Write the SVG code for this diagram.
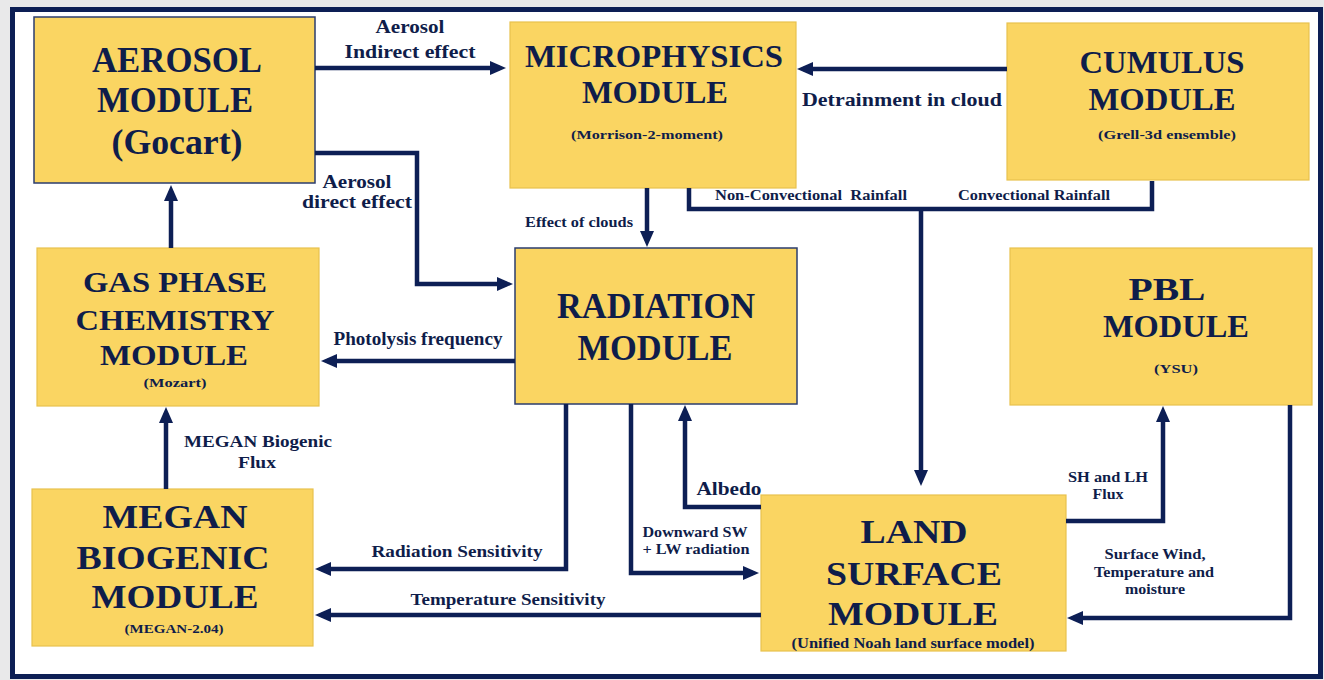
<svg xmlns="http://www.w3.org/2000/svg" width="1324" height="680" viewBox="0 0 1324 680">
<defs>
<style>
.bg{fill:#e9e9ea}
.frame{fill:#ffffff;stroke:#0d1f55;stroke-width:5}
.box{fill:#fad562;stroke:#e8c24e;stroke-width:1.2}
.boxd{fill:#fad562;stroke:#2b3d6e;stroke-width:1.5}
text{font-family:"Liberation Serif","Times New Roman",serif;font-weight:bold;fill:#0f1d4a;text-anchor:middle}
.t{font-size:33px}
.s{font-size:13px}
.l{font-size:17px}
.m{font-size:15px}
.c{fill:none;stroke:#0d1f55;stroke-width:4.5;stroke-linejoin:miter}
</style>
<marker id="ah" markerUnits="userSpaceOnUse" markerWidth="17" markerHeight="15" refX="10" refY="7" orient="auto">
<path d="M0,0 L16,7 L0,14 z" fill="#0d1f55"/>
</marker>
</defs>
<rect class="bg" x="0" y="0" width="1324" height="680"/>
<rect class="frame" x="12.5" y="9.5" width="1308" height="667"/>

<g id="aerosol">
<rect class="boxd" x="34" y="17" width="281" height="166"/>
<text class="t" x="177" y="72" style="font-size:36px" textLength="170" lengthAdjust="spacingAndGlyphs">AEROSOL</text>
<text class="t" x="175" y="112" style="font-size:36px" textLength="156" lengthAdjust="spacingAndGlyphs">MODULE</text>
<text class="t" x="177" y="154" style="font-size:36px" textLength="131" lengthAdjust="spacingAndGlyphs">(Gocart)</text>
</g>

<g id="microphysics">
<rect class="box" x="510" y="22" width="286" height="166"/>
<text class="t" x="654" y="67" style="font-size:31px" textLength="258" lengthAdjust="spacingAndGlyphs">MICROPHYSICS</text>
<text class="t" x="655" y="103" style="font-size:31px" textLength="146" lengthAdjust="spacingAndGlyphs">MODULE</text>
<text class="s" x="647" y="139" textLength="152" lengthAdjust="spacingAndGlyphs">(Morrison-2-moment)</text>
</g>

<g id="cumulus">
<rect class="box" x="1007" y="23" width="302" height="157"/>
<text class="t" x="1162" y="73" style="font-size:31px" textLength="165" lengthAdjust="spacingAndGlyphs">CUMULUS</text>
<text class="t" x="1162" y="110" style="font-size:31px" textLength="147" lengthAdjust="spacingAndGlyphs">MODULE</text>
<text class="s" x="1167" y="139" textLength="138" lengthAdjust="spacingAndGlyphs">(Grell-3d ensemble)</text>
</g>

<g id="gasphase">
<rect class="box" x="37" y="248" width="282" height="158"/>
<text class="t" x="175" y="292" style="font-size:30px" textLength="184" lengthAdjust="spacingAndGlyphs">GAS PHASE</text>
<text class="t" x="175" y="330" style="font-size:30px" textLength="199" lengthAdjust="spacingAndGlyphs">CHEMISTRY</text>
<text class="t" x="174" y="365" style="font-size:30px" textLength="148" lengthAdjust="spacingAndGlyphs">MODULE</text>
<text class="s" x="175" y="387" textLength="63" lengthAdjust="spacingAndGlyphs">(Mozart)</text>
</g>

<g id="radiation">
<rect class="boxd" x="515" y="248" width="282" height="156"/>
<text class="t" x="656" y="318" style="font-size:35px" textLength="198" lengthAdjust="spacingAndGlyphs">RADIATION</text>
<text class="t" x="655" y="360" style="font-size:35px" textLength="155" lengthAdjust="spacingAndGlyphs">MODULE</text>
</g>

<g id="pbl">
<rect class="box" x="1010" y="248" width="302" height="157"/>
<text class="t" x="1167" y="300" style="font-size:31px" textLength="77" lengthAdjust="spacingAndGlyphs">PBL</text>
<text class="t" x="1176" y="337" style="font-size:31px" textLength="146" lengthAdjust="spacingAndGlyphs">MODULE</text>
<text class="s" x="1176" y="373" textLength="44" lengthAdjust="spacingAndGlyphs">(YSU)</text>
</g>

<g id="megan">
<rect class="box" x="32" y="489" width="281" height="157"/>
<text class="t" x="175" y="528" style="font-size:34px" textLength="145" lengthAdjust="spacingAndGlyphs">MEGAN</text>
<text class="t" x="173" y="569" style="font-size:34px" textLength="193" lengthAdjust="spacingAndGlyphs">BIOGENIC</text>
<text class="t" x="175" y="608" style="font-size:34px" textLength="167" lengthAdjust="spacingAndGlyphs">MODULE</text>
<text class="s" x="174" y="633" style="font-size:12px" textLength="99" lengthAdjust="spacingAndGlyphs">(MEGAN-2.04)</text>
</g>

<g id="landsurface">
<rect class="box" x="761" y="495" width="305" height="156"/>
<text class="t" x="914" y="543" style="font-size:34px" textLength="107" lengthAdjust="spacingAndGlyphs">LAND</text>
<text class="t" x="914" y="585" style="font-size:34px" textLength="176" lengthAdjust="spacingAndGlyphs">SURFACE</text>
<text class="t" x="913" y="625" style="font-size:34px" textLength="170" lengthAdjust="spacingAndGlyphs">MODULE</text>
<text class="s" x="913" y="648" style="font-size:15px" textLength="243" lengthAdjust="spacingAndGlyphs">(Unified Noah land surface model)</text>
</g>

<g id="connectors">
<path class="c" d="M315,68 H500" marker-end="url(#ah)"/>
<path class="c" d="M315,153 H417 V284 H507" marker-end="url(#ah)"/>
<path class="c" d="M171,248 V191" marker-end="url(#ah)"/>
<path class="c" d="M1007,69 H803" marker-end="url(#ah)"/>
<path class="c" d="M647,188 V241" marker-end="url(#ah)"/>
<path class="c" d="M689,188 V209 H1152 V181"/>
<path class="c" d="M921,209 V480" marker-end="url(#ah)"/>
<path class="c" d="M515,361 H327" marker-end="url(#ah)"/>
<path class="c" d="M166,489 V413" marker-end="url(#ah)"/>
<path class="c" d="M566,404 V569 H321" marker-end="url(#ah)"/>
<path class="c" d="M761,615 H321" marker-end="url(#ah)"/>
<path class="c" d="M631,404 V573 H753" marker-end="url(#ah)"/>
<path class="c" d="M761,507 H685 V411" marker-end="url(#ah)"/>
<path class="c" d="M1066,521 H1163 V412" marker-end="url(#ah)"/>
<path class="c" d="M1290,405 V618 H1073" marker-end="url(#ah)"/>

<text class="l" x="410" y="33" style="font-size:18px" textLength="69" lengthAdjust="spacingAndGlyphs">Aerosol</text>
<text class="l" x="410" y="58" style="font-size:18px" textLength="131" lengthAdjust="spacingAndGlyphs">Indirect effect</text>
<text class="l" x="357" y="188" style="font-size:18px" textLength="69" lengthAdjust="spacingAndGlyphs">Aerosol</text>
<text class="l" x="357" y="208" style="font-size:18px" textLength="110" lengthAdjust="spacingAndGlyphs">direct effect</text>
<text class="l" x="902" y="106" style="font-size:19px" textLength="200" lengthAdjust="spacingAndGlyphs">Detrainment in cloud</text>
<text class="m" x="579" y="227" textLength="108" lengthAdjust="spacingAndGlyphs">Effect of clouds</text>
<text class="m" x="811" y="200" textLength="192" lengthAdjust="spacingAndGlyphs" xml:space="preserve">Non-Convectional  Rainfall</text>
<text class="m" x="1034" y="200" textLength="152" lengthAdjust="spacingAndGlyphs">Convectional Rainfall</text>
<text class="l" x="418" y="345" style="font-size:18px" textLength="169" lengthAdjust="spacingAndGlyphs">Photolysis frequency</text>
<text class="l" x="258" y="447" textLength="148" lengthAdjust="spacingAndGlyphs">MEGAN Biogenic</text>
<text class="l" x="257" y="468" textLength="38" lengthAdjust="spacingAndGlyphs">Flux</text>
<text class="l" x="457" y="557" textLength="171" lengthAdjust="spacingAndGlyphs">Radiation Sensitivity</text>
<text class="l" x="508" y="605" textLength="195" lengthAdjust="spacingAndGlyphs">Temperature Sensitivity</text>
<text class="m" x="695" y="537" textLength="105" lengthAdjust="spacingAndGlyphs">Downward SW</text>
<text class="m" x="696" y="554" textLength="107" lengthAdjust="spacingAndGlyphs">+ LW radiation</text>
<text class="l" x="729" y="495" style="font-size:19px" textLength="65" lengthAdjust="spacingAndGlyphs">Albedo</text>
<text class="m" x="1108" y="482" textLength="80" lengthAdjust="spacingAndGlyphs">SH and LH</text>
<text class="m" x="1108" y="499" textLength="31" lengthAdjust="spacingAndGlyphs">Flux</text>
<text class="m" x="1155" y="559" textLength="101" lengthAdjust="spacingAndGlyphs">Surface Wind,</text>
<text class="m" x="1154" y="577" textLength="120" lengthAdjust="spacingAndGlyphs">Temperature and</text>
<text class="m" x="1155" y="594" textLength="60" lengthAdjust="spacingAndGlyphs">moisture</text>
</g>
</svg>
